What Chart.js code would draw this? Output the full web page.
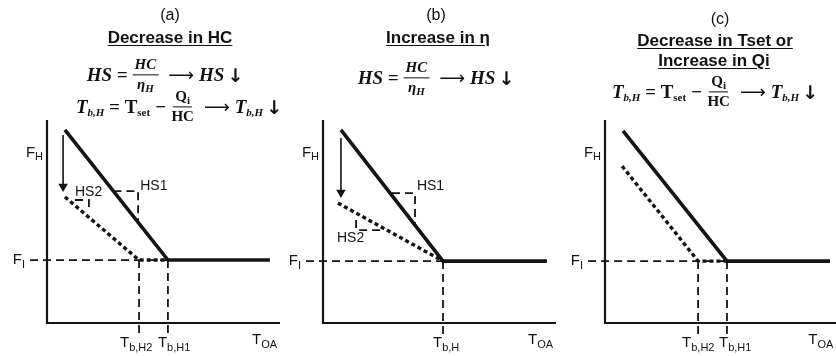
<!DOCTYPE html>
<html>
<head>
<meta charset="utf-8">
<script src="https://cdn.jsdelivr.net/npm/chart.js@4.4.1/dist/chart.umd.min.js"></script>
<style>
  html, body { margin: 0; padding: 0; background: #fff; }
  #wrap { position: relative; width: 836px; height: 356px; overflow: hidden; }
  #wrap canvas { position: absolute; left: 0; top: 0; }
  .t { position: absolute; transform: translate(-50%, -50%); white-space: nowrap; color: #111;
       font-family: "Liberation Sans", Arial, sans-serif; font-size: 16px; }
  .t.h { font-weight: bold; font-size: 17px; text-decoration: underline; text-underline-offset: 2px; }
  .eq { position: absolute; transform: translate(-50%, -50%); white-space: nowrap; color: #111;
        font-family: "Liberation Serif", "DejaVu Serif", serif; font-weight: bold; font-style: italic;
        font-size: 19px; display: flex; align-items: center; }
  .eq sub { font-size: 11px; vertical-align: -3px; line-height: 0; }
  .eq .up { font-style: normal; }
  .frac { display: inline-flex; flex-direction: column; align-items: center; margin: 0 5px; font-size: 15px; }
  .frac .num { border-bottom: 1.6px solid #111; padding: 0 2px 1px; line-height: 1.05; }
  .frac .den { line-height: 1.1; padding-top: 1px; }
  .arr { font-family: "DejaVu Sans", sans-serif; font-style: normal; font-weight: normal; margin: 0 5px; font-size: 18px; }
  .dn { font-family: "DejaVu Sans", sans-serif; font-style: normal; font-weight: bold; margin-left: 3px; font-size: 19px; }
</style>
</head>
<body>
<div id="wrap">
  <canvas id="pa" width="836" height="356"></canvas>
  <canvas id="pb" width="836" height="356"></canvas>
  <canvas id="pc" width="836" height="356"></canvas>

  <div class="t" style="left:170px;top:15px">(a)</div>
  <div class="t h" style="left:170px;top:38px">Decrease in HC</div>
  <div class="eq" style="left:165px;top:75px">
    <span>HS</span>&nbsp;=<span class="frac"><span class="num">HC</span><span class="den">η<sub>H</sub></span></span>
    <span class="arr">⟶</span><span>HS</span><span class="dn">↓</span>
  </div>
  <div class="eq" style="left:179px;top:107px">
    <span>T<sub>b,H</sub></span>&nbsp;=&nbsp;<span class="up">T<sub>set</sub></span>&nbsp;−<span class="frac up"><span class="num">Q<sub>i</sub></span><span class="den">HC</span></span>
    <span class="arr">⟶</span><span>T<sub>b,H</sub></span><span class="dn">↓</span>
  </div>

  <div class="t" style="left:436px;top:15px">(b)</div>
  <div class="t h" style="left:438px;top:38px">Increase in η</div>
  <div class="eq" style="left:436px;top:78px">
    <span>HS</span>&nbsp;=<span class="frac"><span class="num">HC</span><span class="den">η<sub>H</sub></span></span>
    <span class="arr">⟶</span><span>HS</span><span class="dn">↓</span>
  </div>

  <div class="t" style="left:720px;top:19px">(c)</div>
  <div class="t h" style="left:715px;top:41px">Decrease in Tset or</div>
  <div class="t h" style="left:714px;top:61px">Increase in Qi</div>
  <div class="eq" style="left:715px;top:92px">
    <span>T<sub>b,H</sub></span>&nbsp;=&nbsp;<span class="up">T<sub>set</sub></span>&nbsp;−<span class="frac up"><span class="num">Q<sub>i</sub></span><span class="den">HC</span></span>
    <span class="arr">⟶</span><span>T<sub>b,H</sub></span><span class="dn">↓</span>
  </div>
</div>

<script>
// ---- Panel (a): decrease in heating capacity HC ----
const aBase     = [[7.7, 95.1], [51.9, 31], [95.7, 31]];   // original heating-signature line
const aReduced  = [[7.7, 62.1], [39.5, 31], [51.9, 31]];   // line after HC decreases
const aShift    = [[6.9, 92.6], [6.9, 67.2]];              // downward shift arrow
const aSlope1   = [[28.5, 65], [39.1, 65], [39.1, 49.6]];  // HS1 slope triangle
const aSlope2   = [[12, 60.6], [18, 60.6], [18, 55.7]];    // HS2 slope triangle
const aFloor    = 31;                                       // F_I level
const aBalance  = [51.9, 39.5];                             // T_b,H1, T_b,H2

// ---- Panel (b): increase in efficiency η ----
const bBase     = [[7.7, 95.1], [51.5, 30.5], [96.1, 30.5]];
const bReduced  = [[6.4, 59.1], [51.5, 30.5]];
const bShift    = [[7.7, 91.1], [7.7, 64.3]];
const bSlope1   = [[29.6, 64], [39.5, 64], [39.5, 48.2]];
const bSlope2   = [[14.2, 50.7], [14.2, 45.8], [24.5, 45.8]];
const bFloor    = 30.5;
const bBalance  = [51.5];                                   // T_b,H

// ---- Panel (c): decrease in Tset or increase in Qi ----
const cBase     = [[7.8, 94.6], [52.8, 30.5], [97.4, 30.5]];
const cReduced  = [[7.4, 77.3], [40.3, 30.5], [52.8, 30.5]];
const cFloor    = 30.5;
const cBalance  = [52.8, 40.3];                             // T_b,H1, T_b,H2

const INK = '#141414';
const pts = arr => arr.map(([x, y]) => ({ x, y }));

// text with a subscript, e.g. F_H or T_b,H1
function subText(ctx, x, y, main, sub, align, size) {
  ctx.font = size + 'px "Liberation Sans", Arial, sans-serif';
  const w1 = ctx.measureText(main).width;
  const ss = Math.round(size * 0.72);
  ctx.font = ss + 'px "Liberation Sans", Arial, sans-serif';
  const w2 = sub ? ctx.measureText(sub).width : 0;
  const tot = w1 + w2;
  let sx = align === 'right' ? x - tot : align === 'center' ? x - tot / 2 : x;
  ctx.textBaseline = 'middle';
  ctx.textAlign = 'left';
  ctx.fillStyle = INK;
  ctx.font = size + 'px "Liberation Sans", Arial, sans-serif';
  ctx.fillText(main, sx, y);
  if (sub) {
    ctx.font = ss + 'px "Liberation Sans", Arial, sans-serif';
    ctx.fillText(sub, sx + w1, y + size * 0.3);
  }
}

const labelPlugin = {
  id: 'sketchLabels',
  afterDatasetsDraw(chart, args, opts) {
    const { ctx, scales: { x, y }, chartArea } = chart;
    ctx.save();
    (opts.items || []).forEach(it => {
      const px = (it.x == null ? chartArea.left : x.getPixelForValue(it.x)) + (it.dx || 0);
      const py = (it.y == null ? chartArea.bottom : y.getPixelForValue(it.y)) + (it.dy || 0);
      subText(ctx, px, py, it.text, it.sub, it.align || 'left', it.size || 15);
    });
    ctx.restore();
  }
};

function line(data, opt) {
  return Object.assign({
    data: pts(data), showLine: true, borderColor: INK, backgroundColor: INK,
    pointRadius: 0, borderWidth: 1.8, clip: false, tension: 0, borderCapStyle: 'butt'
  }, opt);
}
const DASH = [8, 5];

function makePanel(id, left, width, sets, labels) {
  const W = 836, H = 356, top = 120, bottom = 323;
  new Chart(document.getElementById(id), {
    type: 'scatter',
    data: { datasets: sets },
    options: {
      responsive: false, animation: false, events: [],
      layout: { padding: { left, right: W - left - width, top, bottom: H - bottom } },
      scales: {
        x: { type: 'linear', min: 0, max: 100, display: false },
        y: { type: 'linear', min: 0, max: 100, display: false }
      },
      plugins: { legend: { display: false }, tooltip: { enabled: false }, sketchLabels: { items: labels } }
    },
    plugins: [labelPlugin]
  });
}

function commonSets(base, reduced, floor, balance, dotted) {
  const sets = [];
  // axes
  sets.push(line([[0, 100], [0, 0], [100, 0]], { borderWidth: 2.2, borderJoinStyle: 'miter' }));
  // F_I guide and balance-temperature guides
  sets.push(line([[-7.3, floor], [balance[0], floor]], { borderDash: DASH }));
  balance.forEach(b => sets.push(line([[b, floor], [b, -5.9]], { borderDash: DASH })));
  // main lines
  sets.push(line(base, { borderWidth: 3.6 }));
  sets.push(line(reduced, { borderWidth: 3.4, borderDash: dotted }));
  return sets;
}

function arrow(data) {
  return line(data, { borderWidth: 1.6, pointStyle: 'triangle', rotation: 180,
                      pointRadius: [0, 5.5], pointBorderWidth: 0 });
}

// (a)
makePanel('pa', 47, 233,
  commonSets(aBase, aReduced, aFloor, aBalance, [4, 3]).concat([
    arrow(aShift),
    line(aSlope1, { borderDash: DASH }),
    line(aSlope2, { borderDash: DASH })
  ]),
  [
    { x: 0, y: 84, dx: -4, text: 'F', sub: 'H', align: 'right' },
    { x: 0, y: aFloor, dx: -22, text: 'F', sub: 'I', align: 'right' },
    { x: 88, dy: 17, text: 'T', sub: 'OA' },
    { x: aBalance[1], dy: 20, dx: -19, text: 'T', sub: 'b,H2' },
    { x: aBalance[0], dy: 20, dx: -10, text: 'T', sub: 'b,H1' },
    { x: 40, y: 67.5, text: 'HS1', size: 14 },
    { x: 12, y: 64.5, text: 'HS2', size: 14 }
  ]);

// (b)
makePanel('pb', 323, 233,
  commonSets(bBase, bReduced, bFloor, bBalance, [4, 3]).concat([
    arrow(bShift),
    line(bSlope1, { borderDash: DASH }),
    line(bSlope2, { borderDash: DASH })
  ]),
  [
    { x: 0, y: 84, dx: -4, text: 'F', sub: 'H', align: 'right' },
    { x: 0, y: bFloor, dx: -22, text: 'F', sub: 'I', align: 'right' },
    { x: 88, dy: 17, text: 'T', sub: 'OA' },
    { x: bBalance[0], dy: 20, dx: -10, text: 'T', sub: 'b,H' },
    { x: 40.3, y: 67.5, text: 'HS1', size: 14 },
    { x: 6, y: 41.9, text: 'HS2', size: 14 }
  ]);

// (c)
makePanel('pc', 605, 231,
  commonSets(cBase, cReduced, cFloor, cBalance, [4, 3]),
  [
    { x: 0, y: 84, dx: -4, text: 'F', sub: 'H', align: 'right' },
    { x: 0, y: cFloor, dx: -22, text: 'F', sub: 'I', align: 'right' },
    { x: 88, dy: 17, text: 'T', sub: 'OA' },
    { x: cBalance[1], dy: 20, dx: -16, text: 'T', sub: 'b,H2' },
    { x: cBalance[0], dy: 20, dx: -8, text: 'T', sub: 'b,H1' }
  ]);
</script>
</body>
</html>
